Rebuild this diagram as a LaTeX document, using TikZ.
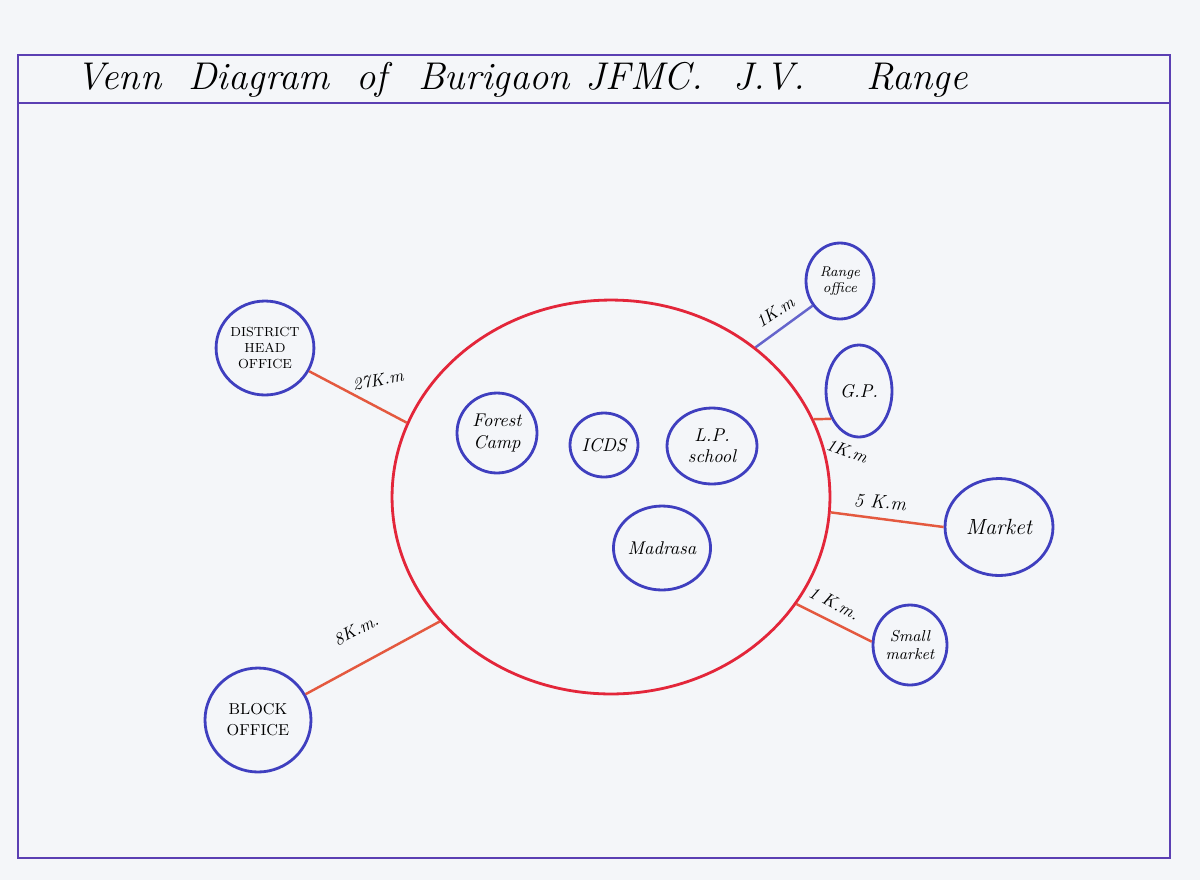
\documentclass[tikz,border=0pt]{standalone}
\usetikzlibrary{shapes.geometric}
\definecolor{framecol}{HTML}{5B3FB3}
\definecolor{inkblue}{HTML}{3F3FBF}
\definecolor{inkred}{HTML}{E3263A}
\definecolor{inkorange}{HTML}{E4593F}
\definecolor{paper}{HTML}{F4F6F9}
\begin{document}
\begin{tikzpicture}[x=0.02cm,y=-0.02cm,
  place/.style={ellipse,draw=inkblue,line width=1.6pt,inner sep=0pt,align=center,font=\fontsize{10.5}{12}\selectfont\itshape},
  dist/.style={font=\fontsize{10}{11}\selectfont\itshape,inner sep=1pt},
  link/.style={inkorange,line width=1.4pt}]
\useasboundingbox (0,0) rectangle (1200,880);
\fill[paper] (0,0) rectangle (1200,880);

% Frame and title bar
\draw[framecol,line width=1.2pt] (18,55) rectangle (1170,858);
\draw[framecol,line width=1.2pt] (18,103) -- (1170,103);
\node[anchor=west,font=\fontsize{22}{26}\selectfont\itshape] (title) at (70,80)
  {Venn\hspace{0.7em}Diagram\hspace{0.7em}of\hspace{0.8em}Burigaon\hspace{0.4em}JFMC.\hspace{0.8em}J.V.\hspace{1.6em}Range};

% Village (big red circle)
\node[ellipse,draw=inkred,line width=1.6pt,minimum width=8.76cm,minimum height=7.88cm,inner sep=0pt] (venn) at (611,497) {};

% Places inside the village
\node[place,minimum width=1.6cm,minimum height=1.6cm] (forest) at (497,433) {Forest\\Camp};
\node[place,minimum width=1.36cm,minimum height=1.28cm] (icds) at (604,445) {ICDS};
\node[place,minimum width=1.8cm,minimum height=1.52cm] (lps) at (712,446) {L.P.\\school};
\node[place,minimum width=1.84cm,minimum height=1.68cm] (madrasa) at (662,548) {Madrasa};

% Places outside the village
\node[place,minimum width=1.88cm,minimum height=1.88cm,font=\fontsize{7.5}{9}\selectfont] (dho) at (265,348) {DISTRICT\\HEAD\\OFFICE};
\node[place,minimum width=1.36cm,minimum height=1.52cm,font=\fontsize{8}{9}\selectfont\itshape] (range) at (840,281) {Range\\office};
\node[place,minimum width=1.32cm,minimum height=1.84cm] (gp) at (859,391) {G.P.};
\node[place,minimum width=2.16cm,minimum height=1.94cm,font=\fontsize{12.5}{14}\selectfont\itshape] (market) at (999,527) {Market};
\node[place,minimum width=1.48cm,minimum height=1.6cm,font=\fontsize{9}{10}\selectfont\itshape] (small) at (910,645) {Small\\market};
\node[place,minimum width=2.12cm,minimum height=2.08cm,font=\fontsize{9}{12}\selectfont] (block) at (258,720) {BLOCK\\OFFICE};

% Distances
\draw[link] (venn.160) -- (dho);
\draw[link,inkblue!80] (venn.46) -- (range.222);
\draw[link] (venn.21) -- (gp.225);
\draw[link] (venn.-4) -- (market.180);
\draw[link] (venn.-30) -- (small.175);
\draw[link] (venn.216) -- (block);

\node[dist,rotate=10] (d1) at (378,380) {27K.m};
\node[dist,rotate=34] (d2) at (775,312) {1K.m};
\node[dist,rotate=-20] (d3) at (847,451) {1K.m};
\node[dist,rotate=-5,font=\fontsize{11}{12}\selectfont\itshape] (d4) at (880,502) {5 K.m};
\node[dist,rotate=-27] (d5) at (834,603) {1 K.m.};
\node[dist,rotate=27] (d6) at (356,630) {8K.m.};
\end{tikzpicture}
\end{document}
